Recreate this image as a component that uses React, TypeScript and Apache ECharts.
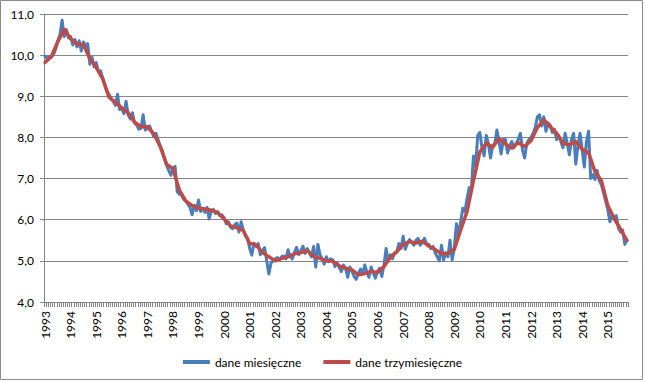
import React, { useEffect, useRef } from "react";
import * as echarts from "echarts";

const START_YEAR = 1993;

// dane miesięczne (monthly), Jan 1993 – Oct 2015
const monthlyValues: number[] = [
  // 1993
  9.98, 9.92, 9.97, 9.95, 10.02, 10.15, 10.35, 10.5, 10.85, 10.45, 10.62, 10.42,
  // 1994
  10.45, 10.25, 10.38, 10.2, 10.35, 10.1, 10.32, 10.22, 10.28, 9.78, 9.95, 9.72,
  // 1995
  9.82, 9.6, 9.62, 9.45, 9.3, 9.12, 9.05, 8.95, 8.88, 8.78, 9.05, 8.68,
  // 1996
  8.7, 8.58, 8.88, 8.55, 8.45, 8.6, 8.35, 8.3, 8.2, 8.22, 8.55, 8.18,
  // 1997
  8.22, 8.28, 8.15, 8.02, 8.1, 7.95, 7.8, 7.68, 7.5, 7.32, 7.2, 7.08,
  // 1998
  7.25, 7.3, 6.68, 6.62, 6.6, 6.5, 6.45, 6.38, 6.3, 6.12, 6.35, 6.22,
  // 1999
  6.48, 6.2, 6.28, 6.18, 6.3, 6.02, 6.22, 6.25, 6.15, 6.2, 6.1, 6.12,
  // 2000
  6.05, 5.9, 5.95, 5.82, 5.78, 5.88, 5.92, 5.7, 5.95, 5.75, 5.6, 5.55,
  // 2001
  5.3, 5.14, 5.43, 5.35, 5.42, 5.15, 5.25, 5.32, 5.0, 4.68, 4.95, 5.0,
  // 2002
  5.05, 5.08, 5.02, 5.1, 5.12, 5.05, 5.27, 5.1, 5.05, 5.2, 5.33, 5.15,
  // 2003
  5.25, 5.36, 5.18, 5.3, 5.2, 5.1, 5.35, 4.85, 5.4, 5.15, 5.05, 4.92,
  // 2004
  5.1, 4.98, 5.05, 5.02, 4.86, 4.95, 4.85, 4.74, 4.9, 4.82, 4.6, 4.85,
  // 2005
  4.75, 4.62, 4.55, 4.7, 4.8, 4.68, 4.9, 4.72, 4.6, 4.85, 4.7, 4.58,
  // 2006
  4.75, 4.82, 4.62, 4.9, 5.3, 4.98, 5.15, 5.05, 5.2, 5.22, 5.42, 5.3,
  // 2007
  5.6, 5.28, 5.42, 5.52, 5.45, 5.38, 5.5, 5.55, 5.38, 5.45, 5.55, 5.42,
  // 2008
  5.4, 5.3, 5.35, 5.2, 5.1, 5.0, 5.38, 5.02, 5.2, 5.1, 5.5, 5.02,
  // 2009
  5.3, 5.9, 5.62, 5.95, 6.28, 6.2, 6.52, 6.78, 6.75, 7.55, 7.3, 8.05,
  // 2010
  8.12, 7.75, 7.55, 8.05, 7.85, 7.5, 7.8, 7.85, 8.18, 7.9, 7.6, 7.95,
  // 2011
  7.95, 7.62, 7.8, 7.9, 7.75, 7.85, 7.95, 8.1, 7.7, 7.5, 7.85, 7.95,
  // 2012
  8.0, 8.1, 8.25, 8.5, 8.55, 8.28, 8.5, 8.15, 8.35, 8.3, 8.12, 8.2,
  // 2013
  7.95, 8.05, 7.9, 7.75, 8.1, 7.85, 7.58, 7.95, 8.1, 7.35, 7.8, 8.1,
  // 2014
  7.7, 7.28, 7.9, 8.15, 7.0, 7.1, 6.98, 7.2, 6.95, 6.85, 6.65, 6.45,
  // 2015
  6.25, 5.95, 6.1, 6.05, 6.1, 5.8, 5.7, 5.75, 5.4, 5.5,
];

// dane trzymiesięczne (quarterly), one value per quarter, placed at its first month
const quarterlyValues: number[] = [
  9.82, 9.97, 10.33, 10.62, // 1993
  10.4, 10.27, 10.25, 9.92, // 1994
  9.7, 9.43, 8.98, 8.85, // 1995
  8.72, 8.6, 8.37, 8.26, // 1996
  8.26, 8.09, 7.78, 7.35, // 1997
  7.24, 6.72, 6.46, 6.34, // 1998
  6.28, 6.26, 6.23, 6.17, // 1999
  6.02, 5.85, 5.8, 5.74, // 2000
  5.42, 5.39, 5.2, 5.1, // 2001
  5.0, 5.06, 5.1, 5.17, // 2002
  5.2, 5.25, 5.11, 5.06, // 2003
  5.0, 4.99, 4.88, 4.82, // 2004
  4.78, 4.66, 4.69, 4.74, // 2005
  4.72, 4.86, 5.09, 5.22, // 2006
  5.4, 5.47, 5.43, 5.48, // 2007
  5.36, 5.28, 5.17, 5.18, // 2008
  5.28, 5.75, 6.2, 6.95, // 2009
  7.65, 7.86, 7.76, 7.97, // 2010
  7.84, 7.74, 7.87, 7.78, // 2011
  7.92, 8.24, 8.43, 8.26, // 2012
  8.1, 7.86, 7.82, 7.9, // 2013
  7.71, 7.63, 7.17, 6.95, // 2014
  6.35, 6.03, 5.77, 5.5, // 2015
];

const seriesNames = ["dane miesięczne", "dane trzymiesięczne"];

const categories = monthlyValues.map(
  (_, i) => `${START_YEAR + Math.floor(i / 12)}-${String((i % 12) + 1).padStart(2, "0")}`
);
const quarterlySeries = categories.map((_, i) =>
  i % 3 === 0 && quarterlyValues[i / 3] !== undefined ? quarterlyValues[i / 3] : null
);

const FONT = "Lato, 'Noto Sans', sans-serif";
const GRID_COLOR = "#868686";

export default function App() {
  const ref = useRef<HTMLDivElement>(null);

  useEffect(() => {
    if (!ref.current) return;
    const chart = echarts.init(ref.current, undefined, { renderer: "svg" });
    chart.setOption({
      animation: false,
      backgroundColor: "#ffffff",
      textStyle: { fontFamily: FONT },
      graphic: [
        {
          type: "rect",
          shape: { x: 0.5, y: 0.5, width: 642, height: 379 },
          style: { fill: "none", stroke: "#8c8c8c", lineWidth: 1 },
          silent: true,
        },
      ],
      grid: { left: 44, top: 14, right: 17, bottom: 80, containLabel: false },
      legend: {
        data: seriesNames,
        left: "center",
        top: 351,
        icon: "rect",
        itemWidth: 27,
        itemHeight: 4,
        itemGap: 22,
        textStyle: { fontFamily: FONT, fontSize: 12, color: "#000" },
      },
      xAxis: {
        type: "category",
        data: categories,
        boundaryGap: true,
        axisLine: { show: true, lineStyle: { color: GRID_COLOR, width: 1 } },
        axisTick: {
          show: true,
          interval: 0,
          length: 5,
          lineStyle: { color: GRID_COLOR, width: 1 },
        },
        axisLabel: {
          interval: (idx: number) => idx % 12 === 0,
          formatter: (v: string) => v.slice(0, 4),
          rotate: 90,
          margin: 9,
          fontFamily: FONT,
          fontSize: 12,
          color: "#000",
          padding: [5, 0, 0, 0],
        },
        splitLine: { show: false },
      },
      yAxis: {
        type: "value",
        min: 4,
        max: 11,
        interval: 1,
        axisLine: { show: true, lineStyle: { color: GRID_COLOR, width: 1 } },
        axisTick: { show: true, length: 4, lineStyle: { color: GRID_COLOR } },
        axisLabel: {
          formatter: (v: number) => v.toFixed(1).replace(".", ","),
          margin: 10,
          fontFamily: FONT,
          fontSize: 12,
          color: "#000",
        },
        splitLine: { show: true, lineStyle: { color: GRID_COLOR, width: 1 } },
      },
      series: [
        {
          name: seriesNames[0],
          type: "line",
          data: monthlyValues,
          showSymbol: false,
          symbol: "none",
          lineStyle: { color: "#4A7EBB", width: 3, cap: "round", join: "round" },
          itemStyle: { color: "#4A7EBB" },
          z: 2,
        },
        {
          name: seriesNames[1],
          type: "line",
          data: quarterlySeries,
          connectNulls: true,
          showSymbol: false,
          symbol: "none",
          lineStyle: { color: "#BE4B48", width: 3.5, cap: "round", join: "round" },
          itemStyle: { color: "#BE4B48" },
          z: 3,
        },
      ],
    });
    return () => chart.dispose();
  }, []);

  return (
    <div
      ref={ref}
      style={{ position: "absolute", left: 0, top: 0, width: 645, height: 382 }}
    />
  );
}
